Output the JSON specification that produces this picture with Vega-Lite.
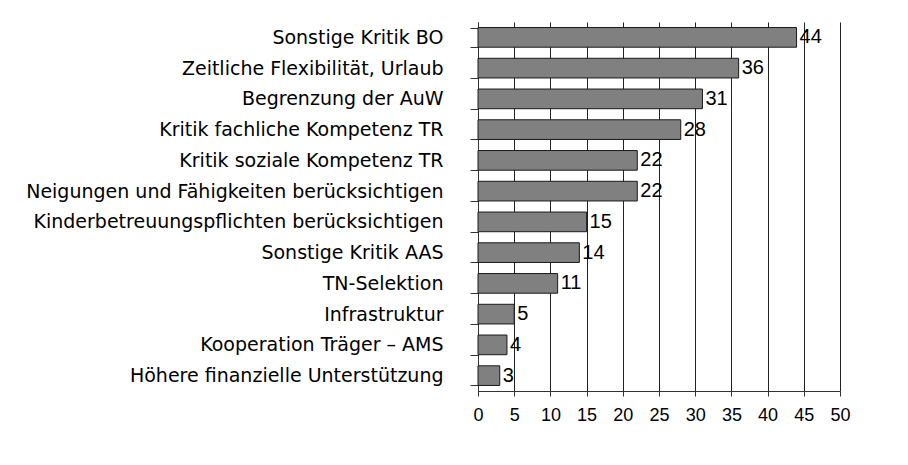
{
  "$schema": "https://vega.github.io/schema/vega-lite/v6.json",
  "width": 362,
  "height": 369,
  "autosize": {"type": "none"},
  "padding": {"left": 478, "top": 22, "right": 68, "bottom": 74},
  "background": "white",
  "config": {"view": {"stroke": null}, "font": "Liberation Sans"},
  "data": {
    "values": [
      {"cat": "Sonstige Kritik BO", "value": 44},
      {"cat": "Zeitliche Flexibilität, Urlaub", "value": 36},
      {"cat": "Begrenzung der AuW", "value": 31},
      {"cat": "Kritik fachliche Kompetenz TR", "value": 28},
      {"cat": "Kritik soziale Kompetenz TR", "value": 22},
      {"cat": "Neigungen und Fähigkeiten berücksichtigen", "value": 22},
      {"cat": "Kinderbetreuungspflichten berücksichtigen", "value": 15},
      {"cat": "Sonstige Kritik AAS", "value": 14},
      {"cat": "TN-Selektion", "value": 11},
      {"cat": "Infrastruktur", "value": 5},
      {"cat": "Kooperation Träger – AMS", "value": 4},
      {"cat": "Höhere finanzielle Unterstützung", "value": 3}
    ]
  },
  "encoding": {
    "y": {
      "field": "cat",
      "type": "nominal",
      "sort": null,
      "scale": {"paddingInner": 0.36, "paddingOuter": 0.18},
      "axis": {
        "title": null,
        "tickBand": "extent",
        "tickSize": 8,
        "labelPadding": 27,
        "labelFont": "DejaVu Sans",
        "labelFontSize": 19,
        "labelColor": "#000",
        "labelLimit": 600,
        "domainColor": "#333",
        "tickColor": "#333"
      }
    },
    "x": {
      "field": "value",
      "type": "quantitative",
      "scale": {"domain": [0, 50]},
      "axis": {
        "title": null,
        "values": [0, 5, 10, 15, 20, 25, 30, 35, 40, 45, 50],
        "labelOverlap": false,
        "labelFlush": false,
        "grid": true,
        "gridColor": "#222",
        "gridOpacity": 1,
        "tickSize": 5,
        "tickColor": "#333",
        "domainColor": "#333",
        "labelPadding": 10,
        "labelFontSize": 18,
        "labelColor": "#000"
      }
    }
  },
  "layer": [
    {
      "mark": {"type": "bar", "fill": "#808080", "stroke": "#1a1a1a", "strokeWidth": 1}
    },
    {
      "mark": {"type": "text", "align": "left", "baseline": "middle", "dx": 3, "fontSize": 20, "color": "#000"},
      "encoding": {
        "text": {"field": "value", "type": "quantitative"}
      }
    }
  ]
}
